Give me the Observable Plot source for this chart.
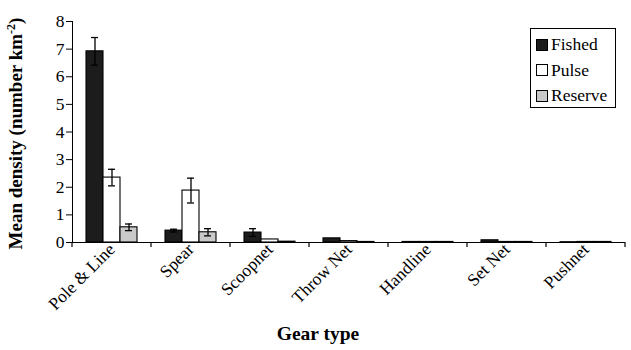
<!DOCTYPE html>
<html>
<head>
<meta charset="utf-8">
<script src="https://cdn.jsdelivr.net/npm/d3@7"></script>
<script src="https://cdn.jsdelivr.net/npm/@observablehq/plot@0.6"></script>
<style>
  html, body { margin: 0; padding: 0; background: #fff; }
  #wrap { position: relative; width: 631px; height: 350px; font-family: "Liberation Serif", "Times New Roman", Times, "DejaVu Serif", serif; }
  #legend { position: absolute; left: 530px; top: 28px; width: 86px; height: 80px; border: 1px solid #000; background: #fff; box-sizing: border-box; padding: 3px 0 0 5px; }
  .item { display: flex; align-items: center; height: 25.5px; font-size: 17.5px; line-height: 1; color: #000; font-family: "Liberation Serif", "Times New Roman", Times, "DejaVu Serif", serif; }
  .sw { width: 10px; height: 10px; border: 1px solid #000; margin-right: 3px; flex: none; }
</style>
</head>
<body>
<div id="wrap"></div>
<script>
const FONT = '"Liberation Serif", "Times New Roman", Times, "DejaVu Serif", serif';
const gears = ["Pole & Line", "Spear", "Scoopnet", "Throw Net", "Handline", "Set Net", "Pushnet"];
const seriesNames = ["Fished", "Pulse", "Reserve"];
const seriesColors = ["#1c1c1c", "#ffffff", "#c9c9c9"];
const fished  = [6.92, 0.43, 0.36, 0.15, 0.02, 0.08, 0.01];
const pulse   = [2.35, 1.88, 0.11, 0.05, 0.02, 0.02, 0.02];
const reserve = [0.55, 0.37, 0.03, 0.02, 0.02, 0.02, 0.02];
const fishedErr  = [0.50, 0.05, 0.14, null, null, null, null];
const pulseErr   = [0.30, 0.45, null, null, null, null, null];
const reserveErr = [0.12, 0.13, null, null, null, null, null];
const yTicks = [0, 1, 2, 3, 4, 5, 6, 7, 8];

const valueSets = [fished, pulse, reserve];
const errSets = [fishedErr, pulseErr, reserveErr];
const rows = [];
gears.forEach((g, i) => seriesNames.forEach((s, j) => {
  rows.push({gear: g, series: s, value: valueSets[j][i], err: errSets[j][i]});
}));
const errRows = rows.filter(d => d.err != null);

const chart = Plot.plot({
  width: 631,
  height: 350,
  marginLeft: 71,
  marginRight: 5,
  marginTop: 21,
  marginBottom: 108,
  style: {fontFamily: FONT, fontSize: "17.5px", background: "white", color: "black"},
  fx: {domain: gears, padding: 0, label: null, axis: "bottom", tickRotate: -45, tickSize: 0, tickPadding: 4},
  x: {domain: seriesNames, paddingInner: 0, paddingOuter: 0.72, axis: null},
  y: {domain: [0, 8], ticks: yTicks, tickFormat: d3.format("d"), tickSize: 6, tickPadding: 2, label: null, line: true},
  color: {domain: seriesNames, range: seriesColors},
  marks: [
    Plot.barY(rows, {fx: "gear", x: "series", y: "value", fill: "series", stroke: "black", strokeWidth: 1.1}),
    Plot.ruleX(errRows, {fx: "gear", x: "series", y1: d => d.value - d.err, y2: d => d.value + d.err, stroke: "black", strokeWidth: 1.3}),
    Plot.tickY(errRows, {fx: "gear", x: "series", y: d => d.value + d.err, stroke: "black", strokeWidth: 1.3, insetLeft: 5, insetRight: 5}),
    Plot.tickY(errRows, {fx: "gear", x: "series", y: d => d.value - d.err, stroke: "black", strokeWidth: 1.3, insetLeft: 5, insetRight: 5}),
    Plot.ruleY([0], {stroke: "black", strokeWidth: 1.2})
  ]
});

const svg = d3.select(chart);

// boundary ticks on the category axis, from the library's scales
const fx = chart.scale("fx");
const ys = chart.scale("y");
const y0 = ys.apply(0);
const bounds = gears.map(g => fx.apply(g)).concat([fx.apply(gears[gears.length - 1]) + fx.bandwidth]);
const gt = svg.append("g").attr("stroke", "black").attr("stroke-width", 1.2);
bounds.forEach(b => gt.append("line").attr("x1", b).attr("x2", b).attr("y1", y0).attr("y2", y0 + 5));

// axis titles
const yl = svg.append("text")
  .attr("transform", `translate(22,${(ys.apply(8) + y0) / 2 + 2}) rotate(-90)`)
  .attr("text-anchor", "middle")
  .attr("font-weight", "bold")
  .attr("font-size", 19)
  .style("font-family", FONT)
  .attr("fill", "black");
yl.append("tspan").text("Mean density (number km");
yl.append("tspan").attr("font-size", 12).attr("dy", -7).text("-2");
yl.append("tspan").attr("dy", 7).text(")");

svg.append("text")
  .attr("x", 318).attr("y", 340)
  .attr("text-anchor", "middle")
  .attr("font-weight", "bold")
  .attr("font-size", 19.5)
  .style("font-family", FONT)
  .attr("fill", "black")
  .text("Gear type");

const wrap = document.getElementById("wrap");
wrap.appendChild(chart);

const legend = document.createElement("div");
legend.id = "legend";
seriesNames.forEach((s, i) => {
  const it = document.createElement("div");
  it.className = "item";
  const sw = document.createElement("span");
  sw.className = "sw";
  sw.style.background = seriesColors[i];
  it.appendChild(sw);
  it.appendChild(document.createTextNode(s));
  legend.appendChild(it);
});
wrap.appendChild(legend);
</script>
</body>
</html>
